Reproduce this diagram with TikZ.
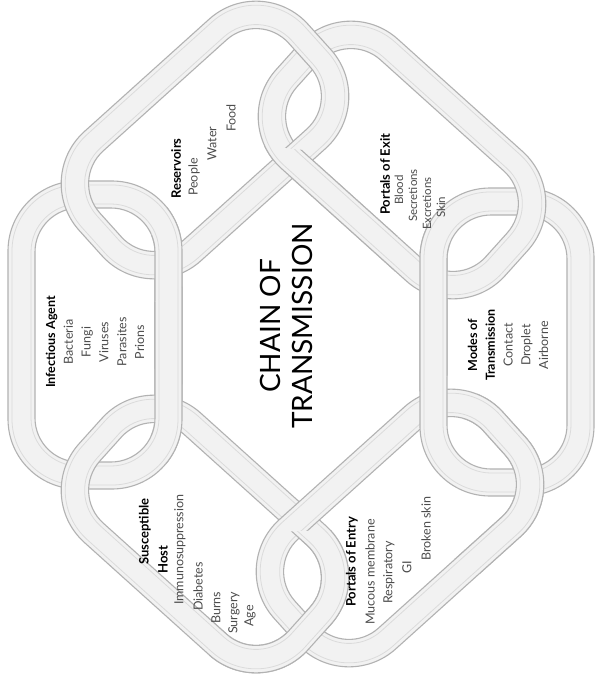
\documentclass[tikz,border=0pt]{standalone}
\usepackage{fontspec}
\setmainfont{Lato}

\tikzset{
  linkfill/.style={fill=gray!10, even odd rule},
  linkedge/.style={draw=gray!60, line width=1.1pt},
  linkshade/.style={draw=gray!28, line width=0.8pt},
  headtext/.style={font=\fontsize{13}{17.8}\selectfont\bfseries, rotate=90, inner sep=0pt},
  itemtext/.style={font=\fontsize{12.5}{17.8}\selectfont, text=black!70, rotate=90, inner sep=0pt},
  smallitem/.style={itemtext, font=\fontsize{11.5}{14}\selectfont},
}

% one link of the chain: centre x, centre y, angle
\newcommand{\chainlink}[3]{%
  \begin{scope}[shift={(#1,#2)}, rotate=#3]
    \fill[linkfill] [rounded corners=70pt] (-154,-87) rectangle (154,87)
      [rounded corners=44pt] (-127,-60) rectangle (127,60);
    \draw[linkshade, rounded corners=66pt] (-150,-83) rectangle (150,83);
    \draw[linkshade, rounded corners=48pt] (-131,-64) rectangle (131,64);
    \draw[linkedge, rounded corners=70pt] (-154,-87) rectangle (154,87);
    \draw[linkedge, rounded corners=44pt] (-127,-60) rectangle (127,60);
  \end{scope}}

\begin{document}
\begin{tikzpicture}[x=1pt, y=-1pt]

    \fill[white] (0,0) rectangle (599,688);
    \useasboundingbox (0,0) rectangle (599,688);

    % Links
    \chainlink{95}{335}{90}
    \chainlink{205}{534}{-42}
    \chainlink{400}{528}{42}
    \chainlink{507}{342}{90}
    \chainlink{402}{160}{-42}
    \chainlink{205}{140}{42}

    % Links passing back over their neighbours
    \begin{scope}
      \clip (95,335) -- (205,140) -- (423,263) -- (313,458) -- cycle;
      \chainlink{95}{335}{90}
    \end{scope}
    \begin{scope}
      \clip (95,335) -- (205,534) -- (424,413) -- (314,214) -- cycle;
      \chainlink{95}{335}{90}
    \end{scope}
    \begin{scope}
      \clip (205,140) -- (402,160) -- (387,410) -- (190,390) -- cycle;
      \chainlink{402}{160}{-42}
    \end{scope}
    \begin{scope}
      \clip (205,534) -- (400,528) -- (408,778) -- (213,784) -- cycle;
      \chainlink{205}{534}{-42}
    \end{scope}
    \begin{scope}
      \clip (400,528) -- (507,342) -- (724,467) -- (617,653) -- cycle;
      \chainlink{400}{528}{42}
    \end{scope}
    \begin{scope}
      \clip (507,342) -- (402,160) -- (184,283) -- (289,465) -- cycle;
      \chainlink{507}{342}{90}
    \end{scope}

    % Title
    \node[rotate=90, align=center, font=\fontsize{28}{32}\selectfont] (title) at (286,326) {CHAIN OF\\TRANSMISSION};

    % Infectious agent
    \node[itemtext, align=center] (agent) at (95,342)
      {\textcolor{black}{\textbf{Infectious Agent}}\\Bacteria\\Fungi\\Viruses\\Parasites\\Prions};

    % Reservoirs
    \node[headtext, anchor=west] (reservoirs) at (176,199) {Reservoirs};
    \node[itemtext, anchor=west] (people) at (194,196) {People};
    \node[itemtext, anchor=west] (water) at (212,161) {Water};
    \node[itemtext, anchor=west] (food) at (231,132) {Food};

    % Portals of exit
    \node[headtext, anchor=west] (exit) at (385,215) {Portals of Exit};
    \node[smallitem, anchor=west] (blood) at (399,205) {Blood};
    \node[smallitem, anchor=west] (secretions) at (413,222) {Secretions};
    \node[smallitem, anchor=west] (excretions) at (427,230) {Excretions};
    \node[smallitem, anchor=west] (skin) at (441,218) {Skin};

    % Modes of transmission
    \node[itemtext, align=center] (modes) at (508,345)
      {\textcolor{black}{\textbf{Modes of}}\\\textcolor{black}{\textbf{Transmission}}\\Contact\\Droplet\\Airborne};

    % Portals of entry
    \node[headtext, anchor=west] (entry) at (352,607) {Portals of Entry};
    \node[itemtext, anchor=west] (mucous) at (370,625) {Mucous membrane};
    \node[itemtext, anchor=west] (respiratory) at (389,604) {Respiratory};
    \node[itemtext, anchor=west] (gi) at (407,574) {GI};
    \node[itemtext, anchor=west] (brokenskin) at (426,561) {Broken skin};

    % Susceptible host
    \node[headtext, anchor=west] (susceptible) at (145,565) {Susceptible};
    \node[headtext, anchor=west] (host) at (163,574) {Host};
    \node[itemtext, anchor=west] (immuno) at (180,605) {Immunosuppression};
    \node[itemtext, anchor=west] (diabetes) at (198,611) {Diabetes};
    \node[itemtext, anchor=west] (burns) at (216,624) {Burns};
    \node[itemtext, anchor=west] (surgery) at (234,634) {Surgery};
    \node[itemtext, anchor=west] (age) at (250,627) {Age};

\end{tikzpicture}
\end{document}
